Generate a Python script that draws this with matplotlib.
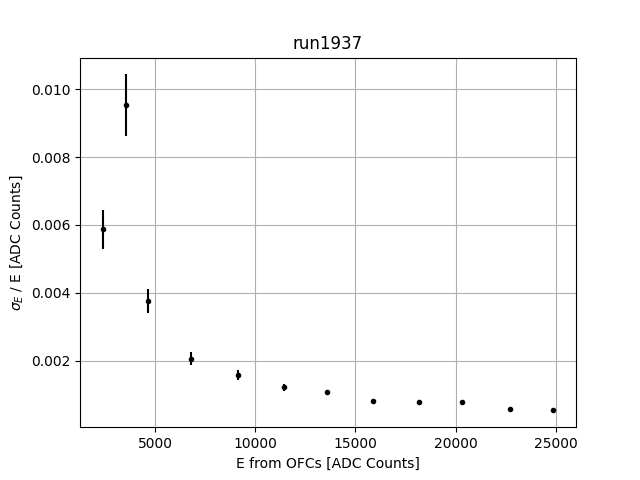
import matplotlib
matplotlib.use('Agg')
import matplotlib.pyplot as plt

energy = [2375, 3530, 4640, 6775, 9140, 11425, 13590, 15890, 18190, 20340, 22725, 24890]
resolution = [0.00587, 0.00953, 0.00376, 0.00206, 0.00157, 0.00121, 0.00106, 0.00082,
              0.00079, 0.00079, 0.00058, 0.00055]
res_err = [0.00057, 0.00091, 0.00035, 0.00020, 0.00015, 0.00010, 0.00006, 0.00004,
           0.00003, 0.00002, 0.00002, 0.00002]

fig = plt.figure(figsize=(6.4, 4.8), dpi=100)
plt.errorbar(energy, resolution, yerr=res_err, fmt='k.')
plt.title('run1937')
plt.xlabel('E from OFCs [ADC Counts]')
plt.ylabel(r'$\sigma_E$ / E [ADC Counts]')
plt.grid(True)
plt.savefig('out.png')
